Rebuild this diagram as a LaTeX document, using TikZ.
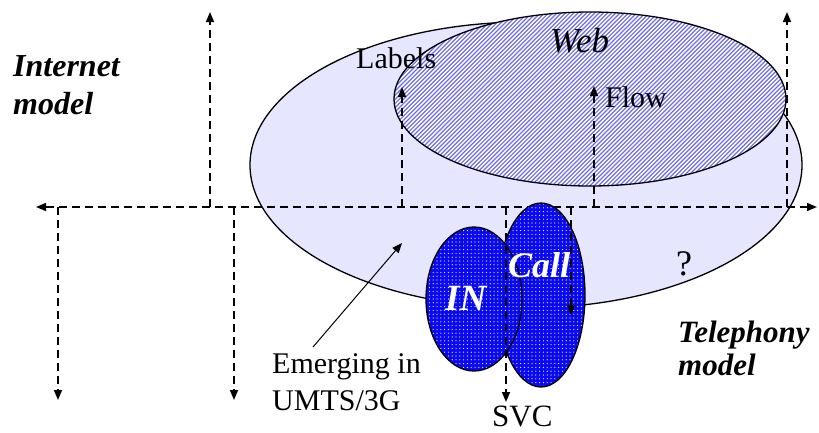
\documentclass[tikz,border=0pt]{standalone}
\usepackage{fontspec}
\setmainfont{Liberation Serif}
\usepackage{xcolor}
\usetikzlibrary{arrows.meta,patterns.meta,positioning}
\tikzset{>={Triangle[length=10pt,width=8pt]}}
\definecolor{lavender}{RGB}{230,230,255}
\definecolor{hatchblue}{RGB}{110,110,235}
\definecolor{dotblue}{RGB}{10,10,240}
\tikzset{
  axis/.style={line width=1.5pt,dash pattern=on 8pt off 5pt},
  lbl/.style={inner sep=0pt,anchor=base west},
  model/.style={inner sep=0pt,anchor=north west,align=left},
}

\begin{document}
\begin{tikzpicture}[x=1pt,y=-1pt]
\useasboundingbox (0,0) rectangle (819,432);

% Big area
\draw[fill=lavender,line width=1.3pt] (526,165) ellipse [x radius=276,y radius=143];

% Web
\begin{scope}
\clip (590,99) ellipse [x radius=196,y radius=87];
\fill[white] (390,10) rectangle (790,190);
\foreach \i in {214,218.2,...,792}
  \draw[hatchblue,line width=1.2pt] (\i,188) -- ++(178,-178);
\end{scope}
\draw[line width=1.3pt] (590,99) ellipse [x radius=196,y radius=87];

% Axes
\coordinate (west) at (36,207);
\coordinate (east) at (817,207);
\draw[axis,<->] (west) -- (east);
\draw[axis,->] (210,207) -- (210,12);
\draw[axis,->] (787,207) -- (787,12);
\draw[axis,->] (58,207) -- (58,400);
\draw[axis,->] (234,207) -- (234,400);

% Texts
\node[model,font=\fontsize{32}{38}\selectfont\bfseries\itshape] (inet) at (13,55) {Internet\\model};
\node[model,font=\fontsize{31}{33}\selectfont\bfseries\itshape] (tel) at (678,321) {Telephony\\model};
\node[lbl,font=\fontsize{35}{40}\selectfont\itshape] (web) at (550,52) {Web};
\node[lbl,font=\fontsize{30}{36}\selectfont] (labels) at (356,68) {Labels};
\node[lbl,font=\fontsize{30}{36}\selectfont] (flow) at (605,107) {Flow};
\node[lbl,font=\fontsize{36}{40}\selectfont] (q) at (676,275) {?};
\node[lbl,font=\fontsize{31}{36}\selectfont] (svc) at (492,426) {SVC};
\node[model,font=\fontsize{30}{37}\selectfont] (emerg) at (272,353) {Emerging in\\UMTS/3G};

% Labels and Flow
\coordinate (lab-tip) at (402,87);
\coordinate (flow-tip) at (594,86);
\draw[axis,->] (lab-tip |- west) -- (lab-tip);
\draw[axis,->] (flow-tip |- west) -- (flow-tip);

% Call and IN
\fill[dotblue] (541,295) ellipse [x radius=44,y radius=92];
\fill[pattern={Dots[distance=3.8pt,radius=0.6pt]},pattern color=white] (541,295) ellipse [x radius=44,y radius=92];
\draw[line width=1.3pt] (541,295) ellipse [x radius=44,y radius=92];
\fill[dotblue] (474,299) ellipse [x radius=48,y radius=72];
\fill[pattern={Dots[distance=3.8pt,radius=0.6pt]},pattern color=white] (474,299) ellipse [x radius=48,y radius=72];
\draw[line width=1.3pt] (474,299) ellipse [x radius=48,y radius=72];
\node[lbl,font=\fontsize{36}{40}\selectfont\bfseries\itshape,text=white] (call) at (508,277) {Call};
\node[lbl,font=\fontsize{37}{40}\selectfont\bfseries\itshape,text=white] (in) at (445,310) {IN};

% SVC
\coordinate (svc-tip) at (506,402);
\coordinate (call-tip) at (571,315);
\draw[axis,->] (svc-tip |- west) -- (svc-tip);
\draw[axis,->] (call-tip |- west) -- (call-tip);

% Emerging
\coordinate (em-from) at (313,347);
\coordinate (em-to) at (402,243);
\draw[line width=1pt,->] (em-from) -- (em-to);

\end{tikzpicture}
\end{document}
